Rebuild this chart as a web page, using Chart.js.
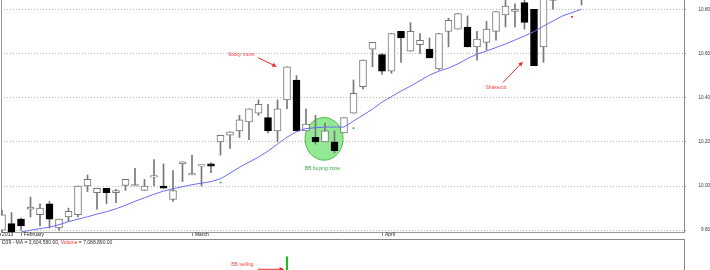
<!DOCTYPE html>
<html>
<head>
<meta charset="utf-8">
<script src="https://cdn.jsdelivr.net/npm/chart.js@4"></script>
<style>
  html, body { margin: 0; padding: 0; background: #fff; overflow: hidden; }
  #wrap { position: relative; width: 710px; height: 270px; overflow: hidden; }
  #price { position: absolute; left: 0; top: 0; }
  #volume { position: absolute; left: 0; top: 238px; }
</style>
</head>
<body>
<div id="wrap">
  <canvas id="price" width="710" height="239"></canvas>
  <canvas id="volume" width="710" height="64"></canvas>
</div>
<script>
// daily candles, one per trading day (index 0 = first day shown)
const opens = [
  9.80, 9.83, 9.85, 9.895, 9.87, 9.92, 9.81, 9.86, 9.87, 10.00,
  9.97, 9.99, 9.97, 10.003, 10.00, 9.98, 10.04, 10.00, 9.94, 10.10,
  10.05, 10.09, 10.10, 10.20, 10.23, 10.25, 10.29, 10.33, 10.31, 10.25,
  10.39, 10.48, 10.25, 10.22, 10.20, 10.20, 10.24, 10.33, 10.45, 10.62,
  10.595, 10.52, 10.70, 10.61, 10.64, 10.62, 10.53, 10.70, 10.71, 10.72,
  10.63, 10.65, 10.70, 10.775, 10.79, 10.83, 10.80, 10.63, 10.84, 10.88,
  10.90, 10.86
]
const closes = [
  9.87, 9.79, 9.82, 9.905, 9.90, 9.85, 9.85, 9.885, 10.00, 10.03,
  9.99, 9.97, 9.98, 10.03, 10.003, 10.00, 10.043, 9.99, 9.98, 10.11,
  10.053, 10.093, 10.09, 10.23, 10.245, 10.30, 10.35, 10.37, 10.25, 10.35,
  10.54, 10.25, 10.28, 10.20, 10.25, 10.16, 10.31, 10.42, 10.57, 10.65,
  10.52, 10.69, 10.67, 10.70, 10.66, 10.58, 10.69, 10.75, 10.78, 10.63,
  10.665, 10.71, 10.79, 10.815, 10.80, 10.74, 10.545, 10.88, 10.88, 10.92,
  10.94, 10.90
]
const highs = [
  9.89, 9.88, 9.855, 9.95, 9.92, 9.93, 9.85, 9.90, 10.00, 10.05,
  9.99, 9.99, 9.985, 10.03, 10.08, 10.03, 10.12, 10.10, 10.07, 10.11,
  10.14, 10.093, 10.105, 10.23, 10.245, 10.32, 10.35, 10.39, 10.37, 10.39,
  10.54, 10.50, 10.35, 10.32, 10.285, 10.25, 10.31, 10.48, 10.57, 10.65,
  10.60, 10.69, 10.70, 10.74, 10.69, 10.67, 10.69, 10.76, 10.78, 10.77,
  10.70, 10.745, 10.79, 10.84, 10.825, 10.85, 10.80, 10.90, 10.92, 10.95,
  10.96, 10.92
]
const lows = [
  9.79, 9.78, 9.80, 9.86, 9.82, 9.81, 9.80, 9.84, 9.86, 9.975,
  9.895, 9.92, 9.925, 9.98, 10.00, 9.98, 10.00, 9.99, 9.93, 10.02,
  10.05, 10.00, 10.06, 10.14, 10.17, 10.22, 10.21, 10.32, 10.24, 10.20,
  10.35, 10.25, 10.25, 10.19, 10.20, 10.15, 10.24, 10.33, 10.44, 10.54,
  10.505, 10.51, 10.56, 10.61, 10.60, 10.58, 10.525, 10.63, 10.71, 10.63,
  10.57, 10.615, 10.66, 10.72, 10.72, 10.71, 10.545, 10.56, 10.80, 10.86,
  10.87, 10.82
]
// moving average (blue line)
const maValues = [
  null, null, 9.792, 9.800, 9.807, 9.814, 9.825, 9.839, 9.850, 9.861,
  9.873, 9.884, 9.897, 9.913, 9.931, 9.947, 9.963, 9.977, 9.988, 9.997,
  10.006, 10.013, 10.020, 10.033, 10.058, 10.085, 10.108, 10.131, 10.158, 10.190,
  10.221, 10.246, 10.260, 10.264, 10.267, 10.267, 10.267, 10.294, 10.321, 10.348,
  10.380, 10.405, 10.430, 10.452, 10.477, 10.502, 10.520, 10.534, 10.553, 10.577,
  10.597, 10.611, 10.627, 10.643, 10.661, 10.679, 10.699, 10.724, 10.747, 10.770,
  10.785, 10.800
]
// signal dots
const buyIdx = [23, 37]
const buyVal = [10.016, 10.262]
const sellIdx = [60]
const sellVal = [10.766]
// volume bars that reach into the visible part of the lower pane
const volumeIdx = [30]
const volumeVal = [12200000]

const priceTicks = [9.8, 10.0, 10.2, 10.4, 10.6, 10.8]
const monthTicks = [-0.2, 2.1, 20.1, 40.1]
const monthLabels = ['2013', 'February', 'March', 'April']

Chart.defaults.font.family = '"Liberation Sans", Arial, sans-serif'
Chart.defaults.animation = false

const idx = opens.map((_, i) => i)
const isUp = idx.map(i => closes[i] >= opens[i])

// axes here must not reserve room for their labels
function noPad (s) {
  s.paddingTop = 0
  s.paddingBottom = 0
  s.paddingLeft = 0
  s.paddingRight = 0
}

function arrow (ctx, x1, y1, x2, y2, color) {
  const a = Math.atan2(y2 - y1, x2 - x1)
  ctx.strokeStyle = color
  ctx.fillStyle = color
  ctx.lineWidth = 1
  ctx.beginPath()
  ctx.moveTo(x1, y1)
  ctx.lineTo(x2 - 3 * Math.cos(a), y2 - 3 * Math.sin(a))
  ctx.stroke()
  ctx.beginPath()
  ctx.moveTo(x2, y2)
  ctx.lineTo(x2 - 5 * Math.cos(a - 0.45), y2 - 5 * Math.sin(a - 0.45))
  ctx.lineTo(x2 - 5 * Math.cos(a + 0.45), y2 - 5 * Math.sin(a + 0.45))
  ctx.closePath()
  ctx.fill()
}

// notes on the price pane, in data units (index, price)
const priceNotes = {
  id: 'priceNotes',
  beforeDatasetsDraw (chart) {
    const { ctx, scales: { x, y } } = chart
    const x1 = x.getPixelForValue(31.9)
    const x2 = x.getPixelForValue(35.9)
    const y1 = y.getPixelForValue(10.31)
    const y2 = y.getPixelForValue(10.117)
    ctx.save()
    ctx.beginPath()
    ctx.ellipse((x1 + x2) / 2, (y1 + y2) / 2, (x2 - x1) / 2, (y2 - y1) / 2, 0, 0, Math.PI * 2)
    ctx.fillStyle = '#93e893'
    ctx.fill()
    ctx.strokeStyle = '#4cbb4c'
    ctx.lineWidth = 1
    ctx.stroke()
    ctx.restore()
  },
  afterDatasetsDraw (chart) {
    const { ctx, scales: { x, y } } = chart
    ctx.save()
    ctx.font = '5px "Liberation Sans", Arial, sans-serif'
    ctx.textAlign = 'center'
    ctx.textBaseline = 'middle'
    ctx.fillStyle = '#f04848'
    ctx.fillText('Sticky move', x.getPixelForValue(25.2), y.getPixelForValue(10.597))
    ctx.fillText('Shakeout', x.getPixelForValue(52.0), y.getPixelForValue(10.446))
    ctx.fillStyle = '#3aa83a'
    ctx.fillText('BB buying zone', x.getPixelForValue(33.74), y.getPixelForValue(10.08))
    arrow(ctx, x.getPixelForValue(26.95), y.getPixelForValue(10.581),
      x.getPixelForValue(28.92), y.getPixelForValue(10.540), '#f02828')
    arrow(ctx, x.getPixelForValue(52.74), y.getPixelForValue(10.469),
      x.getPixelForValue(54.84), y.getPixelForValue(10.563), '#f02828')
    ctx.restore()
  }
}

const priceChart = new Chart(document.querySelector('#price'), {
  type: 'bar',
  data: {
    datasets: [{
      type: 'line',
      data: idx.map(i => ({ x: i, y: maValues[i] })),
      borderColor: '#6c6cf4',
      borderWidth: 1,
      pointRadius: 0,
      pointHoverRadius: 0,
      order: 0
    }, {
      type: 'line',
      data: buyIdx.map((v, i) => ({ x: v, y: buyVal[i] })),
      showLine: false,
      pointStyle: 'rect',
      pointRadius: 1.2,
      pointBorderWidth: 0,
      pointBackgroundColor: '#22bb22',
      order: 1
    }, {
      type: 'line',
      data: sellIdx.map((v, i) => ({ x: v, y: sellVal[i] })),
      showLine: false,
      pointStyle: 'rect',
      pointRadius: 1.2,
      pointBorderWidth: 0,
      pointBackgroundColor: '#ee2222',
      order: 1
    }, {
      // candle bodies
      data: idx.map(i => ({ x: i, y: [opens[i], closes[i]] })),
      backgroundColor: idx.map(i => isUp[i] ? '#ffffff' : '#000000'),
      borderColor: idx.map(i => isUp[i] ? '#777777' : '#000000'),
      borderWidth: 1,
      borderSkipped: false,
      barThickness: 7,
      minBarLength: 1.5,
      grouped: false,
      order: 2
    }, {
      // wicks
      data: idx.map(i => ({ x: i, y: [lows[i], highs[i]] })),
      backgroundColor: '#777777',
      barThickness: 1,
      grouped: false,
      order: 3
    }]
  },
  options: {
    responsive: false,
    devicePixelRatio: 1,
    events: [],
    layout: { padding: 0, autoPadding: false },
    plugins: { legend: { display: false }, tooltip: { enabled: false } },
    scales: {
      x: {
        type: 'linear',
        position: 'bottom',
        offset: false,
        min: -0.105,
        max: 71.79,
        afterBuildTicks: (s) => { s.ticks = monthTicks.map(v => ({ value: v })) },
        afterFit: (s) => { s.height = 7; noPad(s) },
        grid: { drawOnChartArea: false, tickLength: 4, tickColor: '#888', offset: false },
        border: { color: '#999' },
        ticks: {
          autoSkip: false,
          maxRotation: 0,
          align: 'start',
          labelOffset: 2,
          padding: -4,
          color: '#222',
          font: { size: 5 },
          callback: (v, i) => monthLabels[i]
        }
      },
      y: {
        position: 'right',
        min: 9.792,
        max: 10.842,
        afterBuildTicks: (s) => { s.ticks = priceTicks.map(v => ({ value: v })) },
        afterFit: (s) => { s.width = 26; noPad(s) },
        grid: { color: '#b8b8b8', tickLength: 2, tickColor: '#888' },
        border: { color: '#888', dash: [1, 2] },
        ticks: {
          crossAlign: 'far',
          padding: 9.5,
          color: '#333',
          font: { size: 4.6 },
          callback: (v) => v.toFixed(2)
        }
      },
      yLeft: {
        position: 'left',
        grid: { display: false },
        ticks: { display: false },
        border: { color: '#999' },
        afterFit: (s) => { s.width = 1; noPad(s) }
      }
    }
  },
  plugins: [priceNotes]
})

// lower pane: header text and BB selling note
const volumeNotes = {
  id: 'volumeNotes',
  afterDraw (chart) {
    const { ctx, chartArea, scales: { x, y } } = chart
    ctx.save()
    ctx.font = '5px "Liberation Sans", Arial, sans-serif'
    ctx.textBaseline = 'middle'
    const parts = [['D39 - MA = 3,604,580.00, ', '#333'], ['Volume', '#f03030'], [' = 7,088,890.00', '#333']]
    let tx = 2
    parts.forEach(([t, c]) => {
      ctx.fillStyle = c
      ctx.fillText(t, tx, chartArea.top + 4)
      tx += ctx.measureText(t).width
    })
    ctx.textAlign = 'center'
    ctx.fillStyle = '#f04848'
    ctx.fillText('BB selling', x.getPixelForValue(25.3), y.getPixelForValue(9980000))
    arrow(ctx, x.getPixelForValue(26.95), y.getPixelForValue(8830000),
      x.getPixelForValue(29.7), y.getPixelForValue(8830000), '#f02828')
    ctx.restore()
  }
}

const volumeChart = new Chart(document.querySelector('#volume'), {
  type: 'bar',
  data: {
    datasets: [{
      data: volumeIdx.map((v, i) => ({ x: v, y: volumeVal[i] })),
      backgroundColor: '#22bb22',
      barThickness: 1.5,
      grouped: false
    }]
  },
  options: {
    responsive: false,
    devicePixelRatio: 1,
    events: [],
    layout: { padding: 0, autoPadding: false },
    plugins: { legend: { display: false }, tooltip: { enabled: false } },
    scales: {
      x: {
        type: 'linear',
        position: 'top',
        offset: false,
        min: -0.21,
        max: 71.79,
        grid: { display: false },
        ticks: { display: false },
        border: { color: '#888' },
        afterFit: (s) => { s.height = 1; noPad(s) }
      },
      y: {
        position: 'right',
        min: 0,
        max: 17000000,
        grid: { display: false },
        ticks: { display: false },
        border: { color: '#888' },
        afterFit: (s) => { s.width = 26; noPad(s) }
      }
    }
  },
  plugins: [volumeNotes]
})
</script>
</body>
</html>
